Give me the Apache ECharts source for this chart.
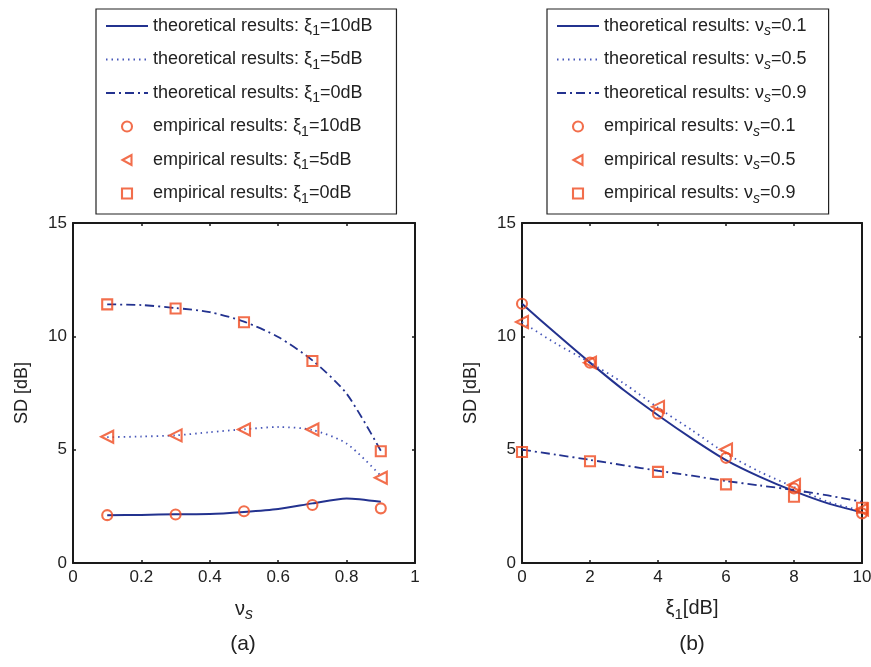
<!DOCTYPE html>
<html>
<head>
<meta charset="utf-8">
<script src="https://cdn.jsdelivr.net/npm/echarts@6/dist/echarts.min.js"></script>
<style>
html,body{margin:0;padding:0;background:#fff;}
#main{width:871px;height:667px;}
</style>
</head>
<body>
<div id="main"></div>
<script>
// (a) SD vs nu_s
const nuTheory = [0.1, 0.2, 0.3, 0.4, 0.5, 0.6, 0.7, 0.8, 0.9];
const aTheory10 = [2.11, 2.12, 2.15, 2.16, 2.25, 2.38, 2.63, 2.85, 2.70];
const aTheory5 = [5.55, 5.58, 5.63, 5.77, 5.90, 6.00, 5.87, 5.27, 3.85];
const aTheory0 = [11.41, 11.38, 11.25, 11.07, 10.65, 9.97, 8.94, 7.47, 4.95];
const nuEmp = [0.1, 0.3, 0.5, 0.7, 0.9];
const aEmp10 = [2.11, 2.14, 2.28, 2.56, 2.41];
const aEmp5 = [5.57, 5.63, 5.89, 5.89, 3.76];
const aEmp0 = [11.41, 11.23, 10.62, 8.91, 4.93];

// (b) SD vs xi_1
const xiTheory = [0, 1, 2, 3, 4, 5, 6, 7, 8, 9, 10];
const bTheory01 = [11.44, 10.12, 8.84, 7.62, 6.52, 5.49, 4.54, 3.80, 3.17, 2.63, 2.23];
const bTheory05 = [10.63, 9.68, 8.84, 7.92, 6.85, 5.86, 4.83, 4.02, 3.35, 2.70, 2.30];
const bTheory09 = [5.00, 4.78, 4.55, 4.31, 4.07, 3.85, 3.62, 3.42, 3.22, 2.98, 2.70];
const xiEmp = [0, 2, 4, 6, 8, 10];
const bEmp01 = [11.44, 8.84, 6.59, 4.64, 3.29, 2.19];
const bEmp05 = [10.63, 8.84, 6.89, 5.01, 3.44, 2.36];
const bEmp09 = [4.90, 4.49, 4.02, 3.47, 2.92, 2.44];

const xTicksA = [0, 1, 0.2];   // min, max, interval
const xTicksB = [0, 10, 2];
const yTicks = [0, 15, 5];

const lineColor = '#23328f';
const dotColor = '#4656b8';
const markColor = '#ef4a1f';
const axisColor = '#1a1a1a';
const textColor = '#222';
const font = 'Liberation Sans';

const pairs = (xs, ys) => xs.map((x, i) => [x, ys[i]]);

const chart = echarts.init(document.getElementById('main'));

const makeX = (grid, ticks, pos, name) => ({
    type: 'value', gridIndex: grid, position: pos,
    min: ticks[0], max: ticks[1], interval: ticks[2],
    axisLine: {show: true, onZero: false, lineStyle: {color: axisColor, width: 2}},
    axisTick: {show: true, inside: true, length: 3, lineStyle: {color: axisColor, width: 1.5}},
    axisLabel: {show: pos == 'bottom', color: textColor, fontSize: 17, fontFamily: font, margin: 6},
    splitLine: {show: false},
    name: name || '', nameLocation: 'middle', nameGap: 32,
    nameTextStyle: {fontSize: 20, color: textColor, fontFamily: font,
        rich: {s: {fontSize: 16, fontStyle: 'italic', padding: [12, 0, 0, 0], fontFamily: font, color: textColor},
               n: {fontSize: 15, padding: [12, 0, 0, 0], fontFamily: font, color: textColor}}}
});
const makeY = (grid, pos, name) => ({
    type: 'value', gridIndex: grid, position: pos,
    min: yTicks[0], max: yTicks[1], interval: yTicks[2],
    axisLine: {show: true, onZero: false, lineStyle: {color: axisColor, width: 2}},
    axisTick: {show: true, inside: true, length: 3, lineStyle: {color: axisColor, width: 1.5}},
    axisLabel: {show: pos == 'left', color: textColor, fontSize: 17, fontFamily: font, margin: 6},
    splitLine: {show: false},
    name: name || '', nameLocation: 'middle', nameGap: 42,
    nameTextStyle: {fontSize: 18, color: textColor, fontFamily: font}
});

const lineSeries = (name, xi, yi, xs, ys, type, color) => ({
    name: name, type: 'line', xAxisIndex: xi, yAxisIndex: yi,
    data: pairs(xs, ys), symbol: 'none', smooth: 0.25,
    lineStyle: {color: color, width: type == 'solid' ? 2 : 1.8, type: type},
    itemStyle: {color: color}, z: 2
});
const markStyle = {color: 'rgba(0,0,0,0)', borderColor: markColor, borderWidth: 2.1};
const empSeries = (name, xi, yi, xs, ys, symbol, rotate) => ({
    name: name, type: 'scatter', xAxisIndex: xi, yAxisIndex: yi,
    data: pairs(xs, ys), symbol: symbol, symbolSize: symbol == 'triangle' ? 12 : 10,
    symbolRotate: rotate || 0,
    itemStyle: markStyle, z: 3
});

const namesA = [
    'theoretical results: ξ1=10dB', 'theoretical results: ξ1=5dB', 'theoretical results: ξ1=0dB',
    'empirical results: ξ1=10dB', 'empirical results: ξ1=5dB', 'empirical results: ξ1=0dB'
];
const namesB = [
    'theoretical results: νs=0.1', 'theoretical results: νs=0.5', 'theoretical results: νs=0.9',
    'empirical results: νs=0.1', 'empirical results: νs=0.5', 'empirical results: νs=0.9'
];
const dashDot = [9, 4, 2, 4];
const dotted = [1.5, 4];

const legendText = {
    fontSize: 18, color: textColor, fontFamily: font,
    rich: {
        n: {fontSize: 14, padding: [11, 0, 0, 0], fontFamily: font, color: textColor},
        s: {fontSize: 14, fontStyle: 'italic', padding: [11, 0, 0, 0], fontFamily: font, color: textColor}
    }
};
const fmt = name => name.replace('ξ1', 'ξ{n|1}').replace('νs', 'ν{s|s}');
// legend icons: lines hide the default marker, markers use square-aspect paths
const triIcon = 'path://M0,5L9,0L9,10Z';
const rectIcon = 'path://M0,0L10,0L10,10L0,10Z';
const legendData = names => [
    {name: names[0], itemStyle: {opacity: 0}},
    {name: names[1], itemStyle: {opacity: 0}},
    {name: names[2], itemStyle: {opacity: 0}},
    {name: names[3], icon: 'circle', itemStyle: markStyle},
    {name: names[4], icon: triIcon, symbolKeepAspect: true, itemStyle: markStyle},
    {name: names[5], icon: rectIcon, symbolKeepAspect: true, itemStyle: markStyle}
];
const makeLegend = (names, left, padRight) => ({
    data: legendData(names), orient: 'vertical', left: left, top: 9,
    itemWidth: 42, itemHeight: 10, itemGap: 12, symbolKeepAspect: true,
    padding: [8, padRight, 8, 9],
    borderColor: '#222', borderWidth: 1.2, backgroundColor: '#fff',
    textStyle: legendText, formatter: fmt,
    selectedMode: false
});

chart.setOption({
    animation: false,
    backgroundColor: '#fff',
    grid: [
        {left: 73, right: 456, top: 223, bottom: 104, outerBoundsMode: 'none'},
        {left: 522, right: 9, top: 223, bottom: 104, outerBoundsMode: 'none'}
    ],
    legend: [makeLegend(namesA, 96, 24), makeLegend(namesB, 547, 22)],
    xAxis: [
        makeX(0, xTicksA, 'bottom', 'ν{s|s}'),
        makeX(0, xTicksA, 'top'),
        makeX(1, xTicksB, 'bottom', 'ξ{n|1}[dB]'),
        makeX(1, xTicksB, 'top')
    ],
    yAxis: [
        makeY(0, 'left', 'SD [dB]'),
        makeY(0, 'right'),
        makeY(1, 'left', 'SD [dB]'),
        makeY(1, 'right')
    ],
    graphic: [
        {type: 'text', x: 243, y: 634, style: {text: '(a)', fontSize: 21, fontFamily: font, fill: textColor, textAlign: 'center'}},
        {type: 'text', x: 692, y: 634, style: {text: '(b)', fontSize: 21, fontFamily: font, fill: textColor, textAlign: 'center'}}
    ],
    series: [
        lineSeries(namesA[0], 0, 0, nuTheory, aTheory10, 'solid', lineColor),
        lineSeries(namesA[1], 0, 0, nuTheory, aTheory5, dotted, dotColor),
        lineSeries(namesA[2], 0, 0, nuTheory, aTheory0, dashDot, lineColor),
        empSeries(namesA[3], 0, 0, nuEmp, aEmp10, 'circle'),
        empSeries(namesA[4], 0, 0, nuEmp, aEmp5, 'triangle', 90),
        empSeries(namesA[5], 0, 0, nuEmp, aEmp0, 'rect'),
        lineSeries(namesB[0], 2, 2, xiTheory, bTheory01, 'solid', lineColor),
        lineSeries(namesB[1], 2, 2, xiTheory, bTheory05, dotted, dotColor),
        lineSeries(namesB[2], 2, 2, xiTheory, bTheory09, dashDot, lineColor),
        empSeries(namesB[3], 2, 2, xiEmp, bEmp01, 'circle'),
        empSeries(namesB[4], 2, 2, xiEmp, bEmp05, 'triangle', 90),
        empSeries(namesB[5], 2, 2, xiEmp, bEmp09, 'rect')
    ]
});
</script>
</body>
</html>
